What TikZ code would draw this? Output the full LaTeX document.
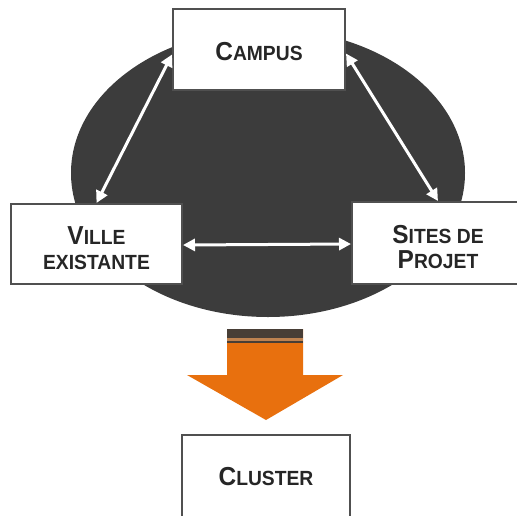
\documentclass[tikz,border=0pt]{standalone}
\usepackage{fontspec}
\setmainfont{Liberation Sans}
\usepackage{graphicx}
\usetikzlibrary{arrows.meta}
\definecolor{ellgray}{RGB}{60,60,60}
\definecolor{boxline}{RGB}{80,80,80}
\definecolor{arrorange}{RGB}{232,112,14}
\definecolor{bandgray}{RGB}{72,62,54}
\definecolor{bandlight}{RGB}{190,130,80}
\newcommand{\bigsc}[1]{{\fontsize{26}{25}\selectfont #1}}
\newcommand{\smsc}[1]{{\fontsize{20.5}{25}\selectfont #1}}
\newcommand{\narrow}[1]{\scalebox{0.94}[1]{#1}}
\tikzset{
  boxnode/.style={draw=boxline, line width=2pt, fill=white, rectangle, inner sep=0pt,
    font=\bfseries\fontsize{20.5}{25}\selectfont, align=center, text=black!85},
  whitearrow/.style={white, line width=3pt, {Triangle[length=12pt,width=12pt]}-{Triangle[length=12pt,width=12pt]}}
}
\begin{document}
\begin{tikzpicture}[x=1pt,y=-1pt]
\useasboundingbox (0,0) rectangle (517,515);
\begin{scope}
\clip (0,0) rectangle (517,515);
% background ellipse
\fill[ellgray] (268,173) ellipse [x radius=197, y radius=144];
% boxes
\node[boxnode, minimum width=172pt, minimum height=81pt] (campus) at (259,49.5)
  {\rule{0pt}{23pt}\narrow{\bigsc{C}\smsc{AMPUS}}};
\node[boxnode, minimum width=171pt, minimum height=80pt] (ville) at (96.5,244)
  {\rule{0pt}{27pt}\narrow{\bigsc{V}\smsc{ILLE}}\\\narrow{\smsc{EXISTANTE}}};
\node[boxnode, minimum width=172pt, minimum height=82pt] (sites) at (438,243)
  {\rule{0pt}{27pt}\narrow{\bigsc{S}\smsc{ITES DE}}\\\narrow{\bigsc{P}\smsc{ROJET}}};
\node[boxnode, minimum width=168pt, minimum height=84pt] (cluster) at (266,477)
  {\narrow{\bigsc{C}\smsc{LUSTER}}};
% connectors
\draw[whitearrow] ([yshift=-5pt]campus.west) -- (ville.north);
\draw[whitearrow] ([yshift=-4pt]campus.east) -- (sites.north);
\draw[whitearrow] ([yshift=-1pt]ville.east) -- ([yshift=-1pt]sites.west);
% orange arrow
\fill[arrorange] (227,329) -- (303,329) -- (303,375) -- (343,375) -- (266,420) -- (187,375) -- (227,375) -- cycle;
\fill[bandgray] (227,329) rectangle (303,337.5);
\fill[bandlight] (227,337.5) rectangle (303,340.5);
\fill[bandgray] (227,340.5) rectangle (303,343);
\end{scope}
\end{tikzpicture}
\end{document}
